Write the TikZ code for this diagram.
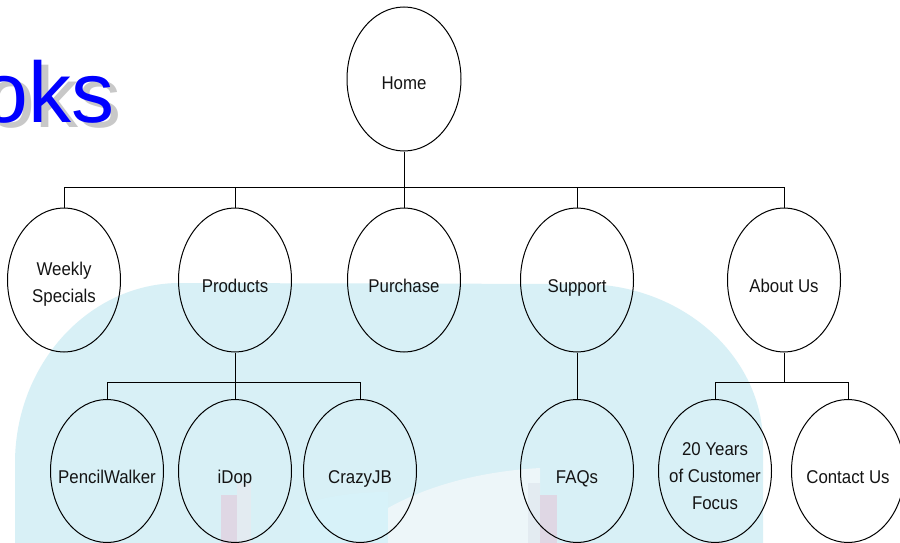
\documentclass[tikz,border=0pt]{standalone}
\usepackage{fontspec}
\setmainfont{Liberation Sans}
\newfontfamily\nodefont[FakeStretch=0.91]{Liberation Sans}
\usetikzlibrary{shapes.geometric}
\definecolor{bgblue}{RGB}{216,240,246}
\definecolor{bgcyan}{RGB}{215,242,249}
\definecolor{bglight}{RGB}{237,246,249}
\definecolor{barpink}{RGB}{223,215,228}
\definecolor{barfaint}{RGB}{227,235,241}
\definecolor{shadowgray}{RGB}{200,200,200}
\definecolor{titleblue}{RGB}{0,0,255}
\definecolor{txt}{RGB}{20,20,20}
\begin{document}
\begin{tikzpicture}[x=1pt,y=-1pt,
  bubble/.style={draw=black, line width=1pt, ellipse, minimum width=113pt,
    minimum height=143pt, inner sep=0pt},
  lbl/.style={font=\nodefont\fontsize{18.5}{27}\selectfont, text=txt, align=center},
  lblone/.style={lbl, text height=13pt, text depth=0pt, yshift=-6pt},
  link/.style={draw=black, line width=1pt},
  titletext/.style={font=\fontsize{86}{90}\selectfont, inner sep=0pt, anchor=base east}]
\useasboundingbox (0,0) rectangle (900,543);
\fill[white] (0,0) rectangle (900,543);
% background panel
\fill[bgblue] (15,543) -- (15,463) .. controls (15,364) and (89,283) .. (180,283)
  -- (583,284) .. controls (682,284) and (763,356) .. (763,444) -- (763,543) -- cycle;
\fill[bgcyan] (300,543) -- (300,505) .. controls (330,495) and (360,492) .. (388,492) -- (388,543) -- cycle;
\fill[bglight] (388,543) -- (388,508) .. controls (420,490) and (470,472) .. (540,468)
  -- (540,543) -- cycle;
\fill[barfaint] (237,483) rectangle (251,543);
\fill[barpink] (221,495) rectangle (237,543);
\fill[barfaint] (528,483) rectangle (540,543);
\fill[barpink] (540,495) rectangle (557,543);
% title fragment
\node[titletext, text=shadowgray] (titleshadow) at (122,127) {oks};
\node[titletext, text=titleblue] (title) at (115,122) {oks};
% nodes
\node[bubble, minimum width=114pt, minimum height=144pt,
  label={[lblone, yshift=2pt]center:Home}] (home) at (404,79) {};
\node[bubble, minimum height=144pt, label={[lbl, yshift=-4.5pt]center:Weekly\\Specials}] (weekly) at (64,280) {};
\node[bubble, minimum height=144pt, label={[lblone]center:Products}] (products) at (235,280) {};
\node[bubble, minimum height=144pt, label={[lblone]center:Purchase}] (purchase) at (404,280) {};
\node[bubble, minimum height=144pt, label={[lblone]center:Support}] (support) at (577,280) {};
\node[bubble, minimum height=144pt, label={[lblone]center:About Us}] (about) at (784,280) {};
\node[bubble, label={[lblone]center:PencilWalker}] (pencil) at (107,471) {};
\node[bubble, label={[lblone]center:iDop}] (idop) at (235,471) {};
\node[bubble, label={[lblone]center:CrazyJB}] (crazy) at (360,471) {};
\node[bubble, label={[lblone]center:FAQs}] (faqs) at (577,471) {};
\node[bubble, label={[lbl, yshift=-5pt]center:20 Years\\of Customer\\Focus}] (years) at (715,471) {};
\node[bubble, label={[lblone]center:Contact Us}] (contact) at (848,471) {};
% connectors
\coordinate (bus) at (404,187);
\coordinate (pbus) at (235,382);
\coordinate (abus) at (784,382);
\draw[link] (home.south) -- (bus);
\draw[link] (weekly.north) -- (weekly.north |- bus) -- (about.north |- bus) -- (about.north);
\draw[link] (products.north) -- (products.north |- bus);
\draw[link] (purchase.north) -- (purchase.north |- bus);
\draw[link] (support.north) -- (support.north |- bus);
\draw[link] (products.south) -- (pbus);
\draw[link] (pencil.north) -- (pencil.north |- pbus) -- (crazy.north |- pbus) -- (crazy.north);
\draw[link] (idop.north) -- (idop.north |- pbus);
\draw[link] (support.south) -- (faqs.north);
\draw[link] (about.south) -- (abus);
\draw[link] (years.north) -- (years.north |- abus) -- (contact.north |- abus) -- (contact.north);
\end{tikzpicture}
\end{document}
